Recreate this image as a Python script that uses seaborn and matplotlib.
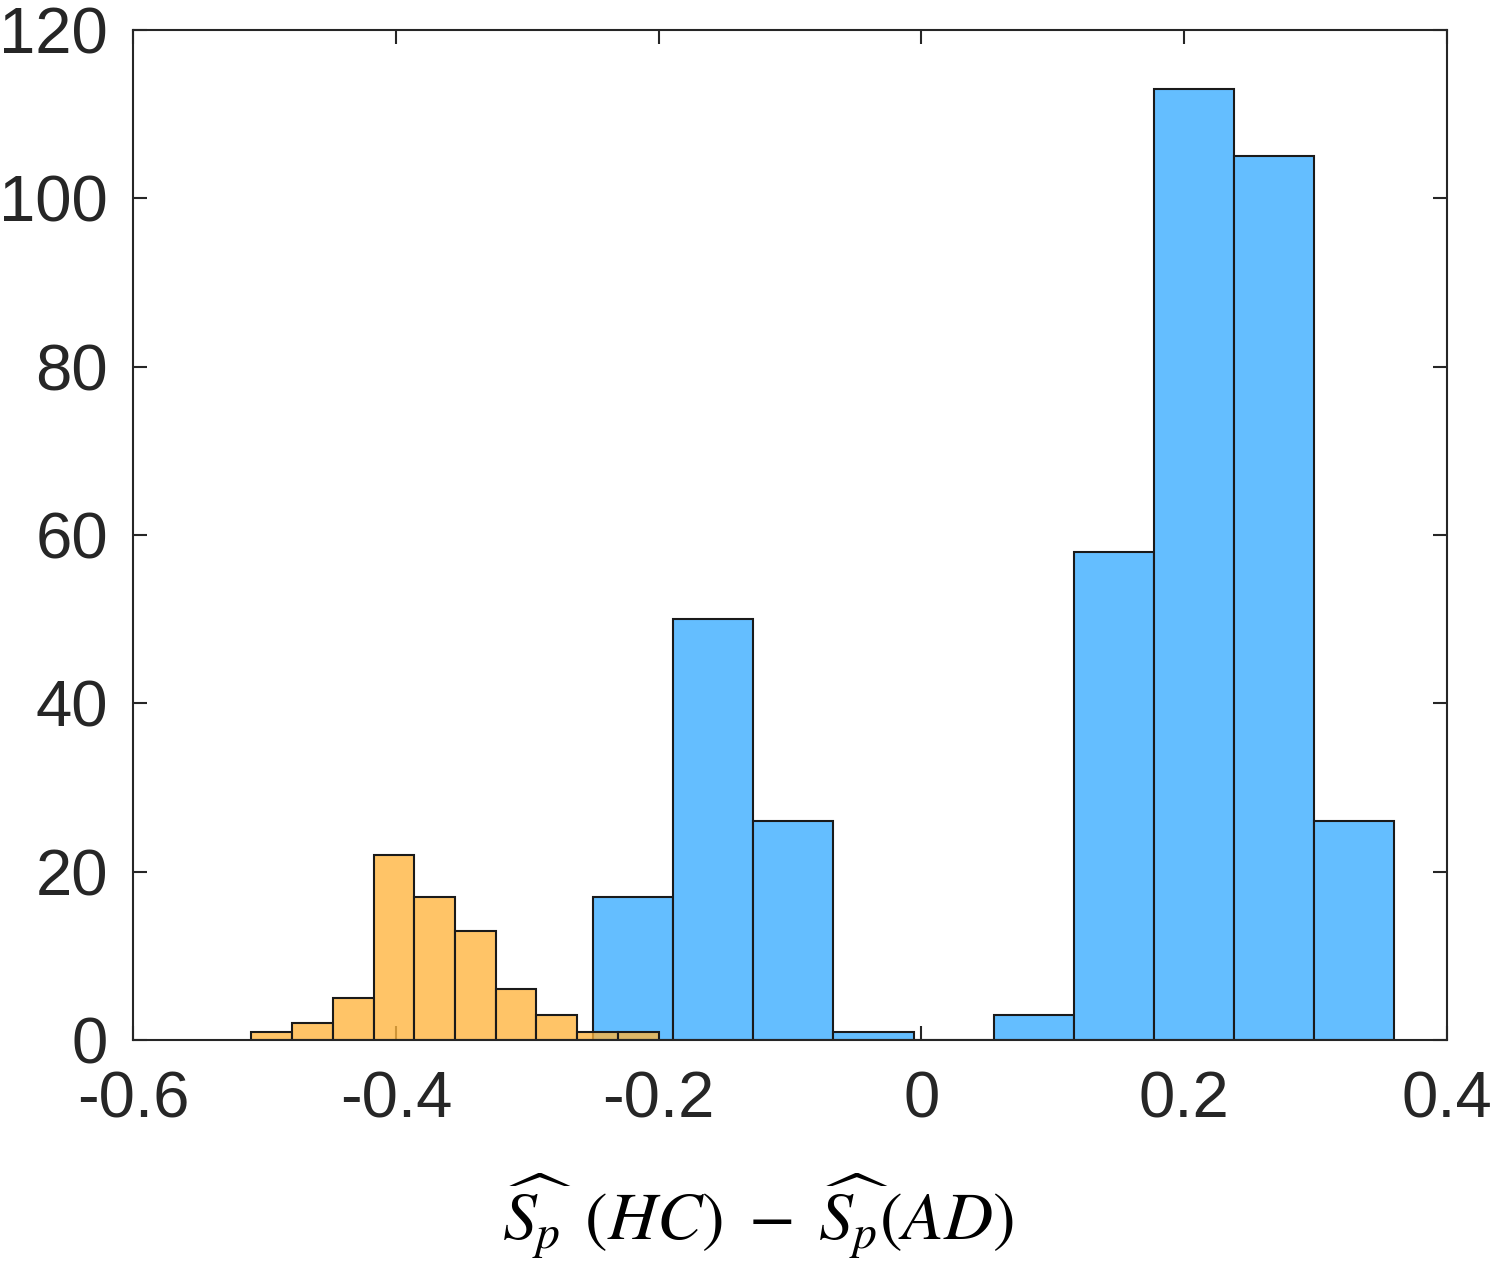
import numpy as np
import pandas as pd
import seaborn as sns
import matplotlib.pyplot as plt

# bin edges and counts
orange_edges = [-0.510, -0.479, -0.448, -0.417, -0.386, -0.355, -0.324, -0.293, -0.262, -0.231, -0.200]
orange_counts = [1, 2, 5, 22, 17, 13, 6, 3, 1, 1]

blue_edges = [-0.250, -0.189, -0.128, -0.067, -0.006, 0.055, 0.116, 0.177, 0.238, 0.299, 0.360]
blue_counts = [17, 50, 26, 1, 0, 3, 58, 113, 105, 26]

x_ticks = [-0.6, -0.4, -0.2, 0, 0.2, 0.4]
x_ticklabels = ['-0.6', '-0.4', '-0.2', '0', '0.2', '0.4']
y_ticks = [0, 20, 40, 60, 80, 100, 120]

sns.set_style('white')
plt.rcParams['font.family'] = ['Liberation Sans', 'DejaVu Sans']
plt.rcParams['mathtext.fontset'] = 'stix'


def to_df(edges, counts):
    e = np.array(edges)
    return pd.DataFrame({'x': (e[:-1] + e[1:]) / 2, 'n': counts})


blue_df = to_df(blue_edges, blue_counts)
orange_df = to_df(orange_edges, orange_counts)

fig = plt.figure(figsize=(15, 12.77), dpi=100)
ax = fig.add_axes([0.0887, 0.1856, 0.8760, 0.7909])
ax.set_axisbelow(True)

sns.histplot(data=blue_df, x='x', weights='n', bins=blue_edges, ax=ax,
             color='#64BEFF', alpha=1.0, edgecolor='#1a1a1a', linewidth=1.5)
sns.histplot(data=orange_df, x='x', weights='n', bins=orange_edges, ax=ax,
             color='#FFB43C', alpha=0.78, edgecolor='#1a1a1a', linewidth=1.5)

ax.set_xlim(-0.6, 0.4)
ax.set_ylim(0, 120)
ax.set_xticks(x_ticks)
ax.set_xticklabels(x_ticklabels)
ax.set_yticks(y_ticks)
ax.set_xlabel('')
ax.set_ylabel('')

for s in ax.spines.values():
    s.set_visible(True)
    s.set_color('#262626')
    s.set_linewidth(1.5)

ax.tick_params(direction='in', length=10, width=1.5, color='#262626',
               left=True, bottom=True, top=True, right=True,
               labelsize=47, labelcolor='#262626')
ax.tick_params(axis='x', pad=22)
ax.tick_params(axis='y', pad=18)

fig.text(0.505, 0.048, r'$\widehat{S_p}\;\,(HC)\;-\;\widehat{S_p}(AD)$',
         fontsize=49, ha='center', va='center', color='black')

fig.savefig('out.png', dpi=100)
